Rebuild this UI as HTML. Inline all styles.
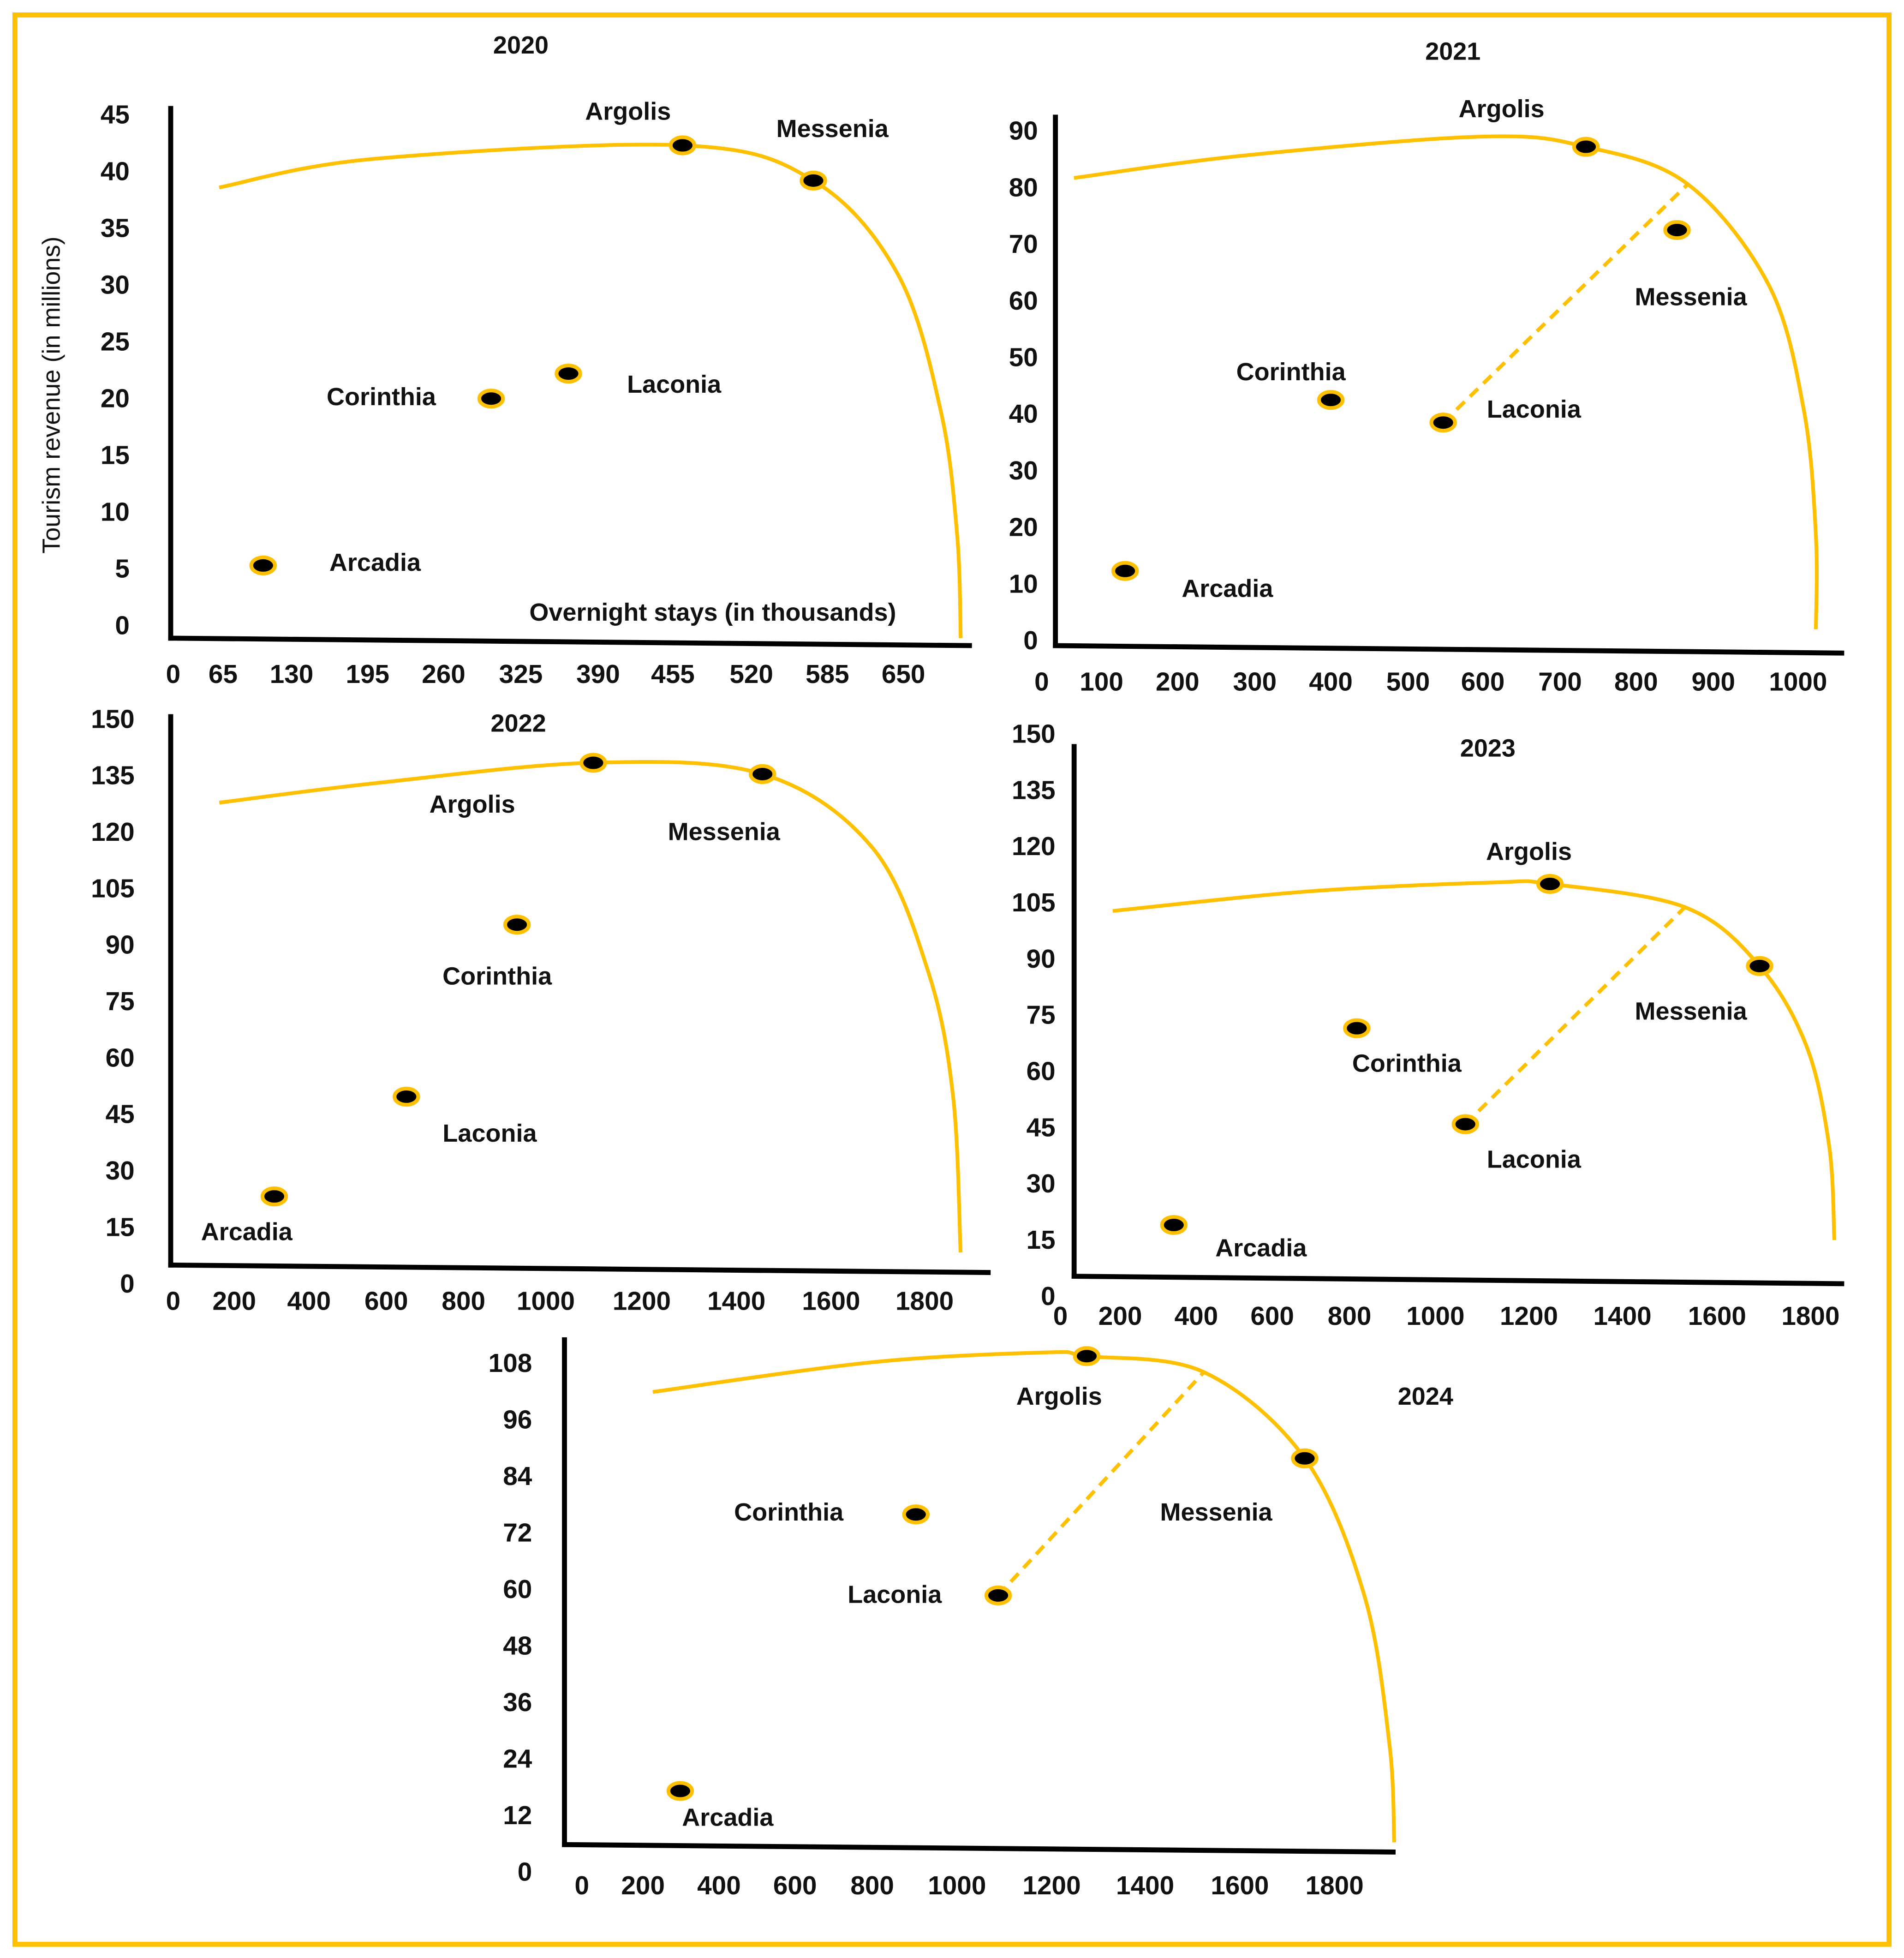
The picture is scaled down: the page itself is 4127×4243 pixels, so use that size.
<!DOCTYPE html>
<html><head><meta charset="utf-8">
<style>
html,body{margin:0;padding:0;background:#fff;}
svg{display:block;}
text{font-family:"Liberation Sans",sans-serif;fill:#111;}
</style></head>
<body>
<svg id="chart" xmlns="http://www.w3.org/2000/svg" width="4127" height="4243" viewBox="0 0 1528 1571" preserveAspectRatio="none">
<rect x="12" y="12" width="1504" height="1548" fill="#fff" stroke="#FFC000" stroke-width="4"/>
<text x="0" y="0" font-size="20" text-anchor="middle" transform="translate(48,317) rotate(-90)">Tourism revenue (in millions)</text>
<text x="572" y="498" font-size="20" font-weight="bold" text-anchor="middle">Overnight stays (in thousands)</text>
</svg>
<script>
// ---- data ----
const regions = ["Argolis","Messenia","Laconia","Corinthia","Arcadia"];
const years = ["2020","2021","2022","2023","2024"];
const stays2020 = [463,573,365,300,103];
const revenue2020 = [42.3,39.2,22.2,20,5.3];
const stays2021 = [734,853,547,400,131];
const revenue2021 = [87.2,72.5,38.5,42.5,12.3];
const stays2022 = [1099,1455,652,930,307];
const revenue2022 = [138.4,135.4,49.7,95.4,23.2];
const stays2023 = [1245,1691,1064,817,341];
const revenue2023 = [110,88.1,45.9,71.5,19];
const stays2024 = [1275,1737,1087,903,298];
const revenue2024 = [109.5,87.8,58.7,75.9,17.2];
// frontier curves
const frontierX2020 = [60,199,463,573,645,682,696,699];
const frontierY2020 = [38.6,41.1,42.3,39.2,31,18.9,7.9,-1.1];
const frontierX2021 = [54,289,600,734,867,966,1007,1021,1021];
const frontierY2021 = [81.7,85.7,89,87.2,80.6,62.6,40.5,18.5,2];
const frontierX2022 = [151,574,1099,1455,1688,1808,1861,1877];
const frontierY2022 = [127.8,133,138.4,135.4,115.9,82.8,49.7,8.3];
const frontierX2023 = [175,694,1128,1245,1532,1691,1792,1840,1851];
const frontierY2023 = [102.8,108,110.4,110,103.8,88.1,66.5,39.9,15];
const frontierX2024 = [226,800,1189,1275,1524,1737,1863,1916,1926];
const frontierY2024 = [101.9,108.2,110.3,109.5,106.1,87.8,58.7,27,6.3];
// dashed target lines (from Laconia to frontier)
const dashTarget2021 = [867,80.6];
const dashTarget2023 = [1532,103.8];
const dashTarget2024 = [1524,106.1];
// ticks
const xTicks2020 = [0,65,130,195,260,325,390,455,520,585,650];
const yTicks2020 = [0,5,10,15,20,25,30,35,40,45];
const xTicks2021 = [0,100,200,300,400,500,600,700,800,900,1000];
const yTicks2021 = [0,10,20,30,40,50,60,70,80,90];
const xTicks2022 = [0,200,400,600,800,1000,1200,1400,1600,1800];
const yTicks2022 = [0,15,30,45,60,75,90,105,120,135,150];
const xTicks2023 = [0,200,400,600,800,1000,1200,1400,1600,1800];
const yTicks2023 = [0,15,30,45,60,75,90,105,120,135,150];
const xTicks2024 = [0,200,400,600,800,1000,1200,1400,1600,1800];
const yTicks2024 = [0,12,24,36,48,60,72,84,96,108];

// ---- layout (pixel config, not data) ----
const panels = [
 {year:"2020", xs:stays2020, ys:revenue2020, fx:frontierX2020, fy:frontierY2020, xt:xTicks2020, yt:yTicks2020, dash:null,
  xRange:[139,179,234,295,356,418,480,540,603,664,725], y0:502, yPer:9.11, tickX:104, xLabelY:548,
  axis:{x:137,top:85,bottom:512,right:780,rightY:518}, title:[418,43],
  labels:[[504,96],[668,110],[541,315],[306,325],[301,458]]},
 {year:"2021", xs:stays2021, ys:revenue2021, fx:frontierX2021, fy:frontierY2021, xt:xTicks2021, yt:yTicks2021, dash:dashTarget2021,
  xRange:[836,884,945,1007,1068,1130,1190,1252,1313,1375,1443], y0:514, yPer:4.544, tickX:833, xLabelY:554,
  axis:{x:847,top:92,bottom:518,right:1480,rightY:524}, title:[1166,48],
  labels:[[1205,94],[1357,245],[1231,335],[1036,305],[985,479]]},
 {year:"2022", xs:stays2022, ys:revenue2022, fx:frontierX2022, fy:frontierY2022, xt:xTicks2022, yt:yTicks2022, dash:null,
  xRange:[139,188,248,310,372,438,515,591,667,742], y0:1030, yPer:3.02, tickX:108, xLabelY:1051,
  axis:{x:137,top:573,bottom:1015,right:795,rightY:1021}, title:[416,587],
  labels:[[379,652],[581,674],[393,916],[399,790],[198,995]]},
 {year:"2023", xs:stays2023, ys:revenue2023, fx:frontierX2023, fy:frontierY2023, xt:xTicks2023, yt:yTicks2023, dash:dashTarget2023,
  xRange:[851,899,960,1021,1083,1152,1227,1302,1378,1453], y0:1040, yPer:3.007, tickX:847, xLabelY:1063,
  axis:{x:862,top:597,bottom:1024,right:1480,rightY:1030}, title:[1194,607],
  labels:[[1227,690],[1357,818],[1231,937],[1129,860],[1012,1008]]},
 {year:"2024", xs:stays2024, ys:revenue2024, fx:frontierX2024, fy:frontierY2024, xt:xTicks2024, yt:yTicks2024, dash:dashTarget2024,
  xRange:[467,516,577,638,700,768,844,919,995,1071], y0:1502, yPer:3.78, tickX:427, xLabelY:1520,
  axis:{x:453,top:1073,bottom:1480,right:1120,rightY:1486}, title:[1144,1127],
  labels:[[850,1127],[976,1220],[718,1286],[633,1220],[584,1465]]}
];

const NS = "http://www.w3.org/2000/svg";
const svg = document.getElementById("chart");
const YEL = "#FFC000";
function mk(tag, attrs, parent){
  const e = document.createElementNS(NS, tag);
  for (const k in attrs) e.setAttribute(k, attrs[k]);
  (parent||svg).appendChild(e);
  return e;
}
function makeX(dom, rng){
  return function(v){
    let i = 0;
    while (i < dom.length-2 && v > dom[i+1]) i++;
    return rng[i] + (v-dom[i])*(rng[i+1]-rng[i])/(dom[i+1]-dom[i]);
  };
}
function smoothPath(pts){
  let d = "M"+pts[0][0].toFixed(1)+","+pts[0][1].toFixed(1);
  for (let i=0;i<pts.length-1;i++){
    const p0=pts[i-1]||pts[i], p1=pts[i], p2=pts[i+1], p3=pts[i+2]||p2;
    const c1=[p1[0]+(p2[0]-p0[0])/6, p1[1]+(p2[1]-p0[1])/6];
    const c2=[p2[0]-(p3[0]-p1[0])/6, p2[1]-(p3[1]-p1[1])/6];
    d += " C"+c1.map(n=>n.toFixed(1)).join(",")+" "+c2.map(n=>n.toFixed(1)).join(",")+" "+p2[0].toFixed(1)+","+p2[1].toFixed(1);
  }
  return d;
}

panels.forEach(p=>{
  const g = mk("g",{});
  
  
  const X = makeX(p.xt, p.xRange);
  const Y = v => p.y0 - v*p.yPer;
  const t = mk("text",{x:p.title[0], y:p.title[1], "font-size":20, "font-weight":"bold", "text-anchor":"middle"}, g);
  t.textContent = p.year;
  
  
  p.yt.forEach(v=>{
    const tt = mk("text",{x:p.tickX, y:Y(v)+7, "font-size":21, "font-weight":"bold", "text-anchor":"end"}, g);
    tt.textContent = v;
    
    
  });
  p.xt.forEach(v=>{
    const tt = mk("text",{x:X(v), y:p.xLabelY, "font-size":21, "font-weight":"bold", "text-anchor":"middle"}, g);
    tt.textContent = v;
    
    
  });
  const ya = mk("line",{x1:p.axis.x, y1:p.axis.top, x2:p.axis.x, y2:p.axis.bottom+2, stroke:"#000", "stroke-width":4}, g);
  
  
  const xa = mk("line",{x1:p.axis.x-2, y1:p.axis.bottom, x2:p.axis.right, y2:p.axis.rightY, stroke:"#000", "stroke-width":4}, g);
  
  
  const pts = p.fx.map((v,i)=>[X(v), Y(p.fy[i])]);
  const fr = mk("path",{d:smoothPath(pts), fill:"none", stroke:YEL, "stroke-width":3}, g);
  
  
  if (p.dash){
    const li = regions.indexOf("Laconia");
    const dl = mk("line",{x1:X(p.xs[li]), y1:Y(p.ys[li]), x2:X(p.dash[0]), y2:Y(p.dash[1]), stroke:YEL, "stroke-width":3, "stroke-dasharray":"9,6"}, g);
    
    
  }
  regions.forEach((r,i)=>{
    const c = mk("ellipse",{cx:X(p.xs[i]), cy:Y(p.ys[i]), rx:9.5, ry:6.5, fill:"#000", stroke:YEL, "stroke-width":3}, g);
    
    
    const l = mk("text",{x:p.labels[i][0], y:p.labels[i][1], "font-size":20, "font-weight":"bold", "text-anchor":"middle"}, g);
    l.textContent = r;
    
    
  });
});
</script>
</body></html>
